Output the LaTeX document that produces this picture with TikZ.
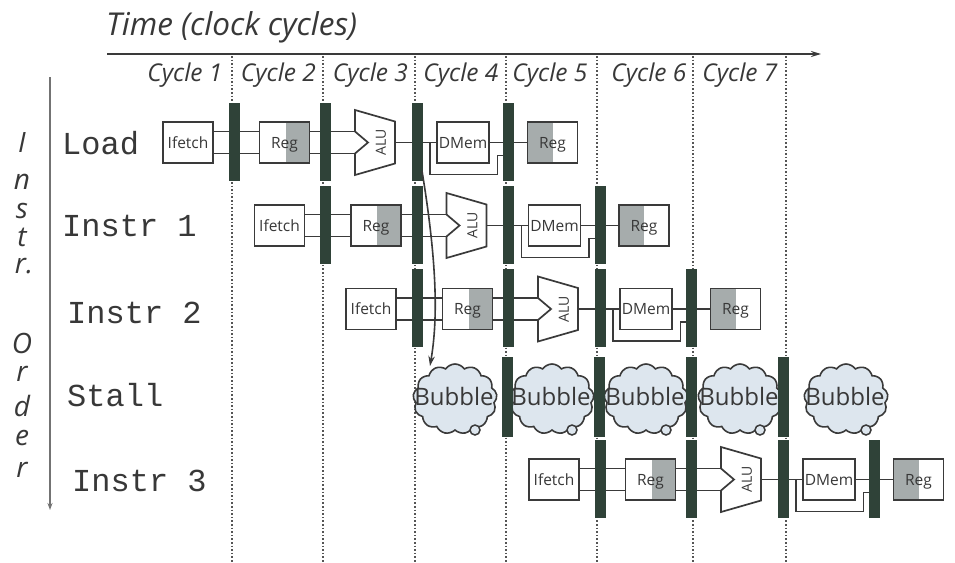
\documentclass[tikz,border=0pt]{standalone}
\usepackage{fontspec}
\setmainfont{Open Sans}
\newfontfamily\monof{Liberation Mono}
\usetikzlibrary{shapes.symbols,arrows.meta}
\definecolor{barc}{HTML}{2F4238}
\definecolor{linec}{HTML}{3A3A3A}
\definecolor{shadec}{HTML}{A6ACAC}
\definecolor{bubc}{HTML}{DDE6EE}
\definecolor{txtc}{HTML}{383838}
\definecolor{dotc}{HTML}{555555}
\newcommand{\fs}[1]{\fontsize{#1}{#1}\selectfont}
\newcommand{\piperow}[3]{%
 \pgfmathsetmacro{\bA}{234+91.5*#2}%
 \pgfmathsetmacro{\bB}{\bA+91.5}%
 \pgfmathsetmacro{\bC}{\bA+183}%
 \pgfmathsetmacro{\bD}{\bA+274.5}%
 \node[stagebox] (#1if) at (\bA-46,#3) {Ifetch};
 \node[regr] (#1rg) at (\bB-41,#3) {Reg};
 \coordinate (#1ai) at (\bC-62,#3-11);
 \coordinate (#1aj) at (\bC-62,#3+11);
 \coordinate (#1ao) at (\bC-22,#3);
 \draw[alu] (\bC-62,#3-32.5) -- (\bC-22,#3-21) -- (\bC-22,#3+21) -- (\bC-62,#3+32.5) -- (#1aj) -- (\bC-49,#3) -- (#1ai) -- cycle;
 \node[boxtext,rotate=90] (#1at) at (\bC-36,#3) {ALU};
 \node[stagebox,minimum width=52] (#1dm) at (\bC+46,#3) {DMem};
 \node[regl] (#1wb) at (\bD+44,#3) {Reg};
 \coordinate (#1bp) at (\bC+13,#3);
 \coordinate (#1bq) at (\bC+13,#3+32);
 \coordinate (#1br) at (\bD-11,#3+32);
 \coordinate (#1bs) at (\bD-11,#3+13);
 \coordinate (#1be) at (\bD,#3+13);
 \draw[wire] ([yshift=11pt]#1if.east) -- ([yshift=11pt]#1rg.west);
 \draw[wire] ([yshift=-11pt]#1if.east) -- ([yshift=-11pt]#1rg.west);
 \draw[wire] (#1rg.east |- #1ai) -- (#1ai);
 \draw[wire] (#1rg.east |- #1aj) -- (#1aj);
 \draw[wire] (#1ao) -- (#1dm.west);
 \draw[wire] (#1bp) -- (#1bq) -- (#1br) -- (#1bs) -- (#1be);
 \draw[wire] (#1dm.east) -- (#1wb.west);
 \node[pbar] (#1ba) at (\bA,#3-1) {};
 \node[pbar] (#1bb) at (\bB,#3-1) {};
 \node[pbar] (#1bc) at (\bC,#3-1) {};
 \node[pbar] (#1bd) at (\bD,#3-1) {};
}
\begin{document}
\begin{tikzpicture}[x=1pt,y=-1pt,
 stagebox/.style={draw=linec,line width=1.7pt,fill=white,minimum width=50,minimum height=41,inner sep=0pt,font=\fs{15.5},text=txtc,text height=11pt,text depth=0pt},
 regr/.style={stagebox,path picture={\fill[shadec] ([xshift=-24pt]path picture bounding box.north east) rectangle (path picture bounding box.south east);}},
 regl/.style={stagebox,path picture={\fill[shadec] (path picture bounding box.north west) rectangle ([xshift=25pt]path picture bounding box.south west);}},
 boxtext/.style={font=\fs{14},text=txtc,inner sep=0pt},
 alu/.style={draw=linec,line width=1.7pt,fill=white,line join=miter},
 wire/.style={draw=linec,line width=1.7pt},
 pbar/.style={fill=barc,draw=none,minimum width=11,minimum height=78,inner sep=0pt},
 dots/.style={draw=dotc,line width=1.6pt,dotted},
 bubble/.style={cloud,cloud puffs=13,cloud puff arc=110,aspect=1.2,draw=linec,line width=1.6pt,fill=bubc,minimum width=84,minimum height=70,inner sep=0pt},
 bubtext/.style={font=\fs{24},text=txtc,inner sep=0pt,text height=17pt,text depth=0pt},
 rowlab/.style={font=\monof\fs{32},text=txtc,anchor=west,inner sep=0pt},
 vlet/.style={font=\itshape\fs{28},text=txtc,inner sep=0pt},
 cyc/.style={font=\itshape\fs{24.5},text=txtc,inner sep=0pt}]
\useasboundingbox (0,0) rectangle (955,562);
\fill[white] (0,0) rectangle (955,562);
% dotted cycle boundaries
\foreach \dx in {232,323,415,506,597,693,786} {\draw[dots] (\dx,56) -- (\dx,562);}
% title and time axis
\node[font=\itshape\fs{31.5},text=txtc,anchor=west,inner sep=0pt] (title) at (106,27) {Time (clock cycles)};
\coordinate (ax0) at (107,54);
\coordinate (ax1) at (821,54);
\draw[draw=linec,line width=2pt,-{Stealth[length=10pt,width=6pt]}] (ax0) -- (ax1);
% cycle labels
\node[cyc] (c1) at (185,75) {Cycle 1};
\node[cyc] (c2) at (278.5,75) {Cycle 2};
\node[cyc] (c3) at (370.5,75) {Cycle 3};
\node[cyc] (c4) at (461,75) {Cycle 4};
\node[cyc] (c5) at (550,75) {Cycle 5};
\node[cyc] (c6) at (649,75) {Cycle 6};
\node[cyc] (c7) at (740,75) {Cycle 7};
% instruction order axis
\coordinate (vo0) at (50,77);
\coordinate (vo1) at (50,510);
\draw[draw=gray!90!black,line width=1.8pt,-{Stealth[length=7pt,width=5pt]}] (vo0) -- (vo1);
\node[vlet] (l1) at (22,143) {I};
\node[vlet] (l2) at (22,182) {n};
\node[vlet] (l3) at (22,211) {s};
\node[vlet] (l4) at (22,237) {t};
\node[vlet] (l5) at (24,266) {r.};
\node[vlet] (l6) at (22,343) {O};
\node[vlet] (l7) at (22,374) {r};
\node[vlet] (l8) at (22,406) {d};
\node[vlet] (l9) at (22,438) {e};
\node[vlet] (l10) at (22,470) {r};
% row labels
\node[rowlab] (rLoad) at (62,143) {Load};
\node[rowlab] (rI1) at (62,226) {Instr 1};
\node[rowlab] (rI2) at (67,313) {Instr 2};
\node[rowlab] (rSt) at (67,395) {Stall};
\node[rowlab] (rI3) at (72,481) {Instr 3};
% pipeline rows
\piperow{ld}{0}{142.5}
\piperow{ia}{1}{225.5}
\piperow{ib}{2}{309}
\piperow{ic}{4}{479.5}
% stall row bubbles
\foreach \i/\bx in {1/455,2/552,3/646,4/740,5/846} {
 \node[bubble] (bub\i) at (\bx,399) {};
 \node[bubtext] (bubt\i) at (\bx-1,397) {Bubble};
 \draw[draw=linec,line width=1.5pt,fill=bubc] (\bx+20,430) circle (5);
}
\foreach \i/\bx in {1/507,2/599,3/691.5,4/783} {
 \node[pbar,minimum height=80] (sb\i) at (\bx,397) {};
}
% hazard arrow
\coordinate (hz0) at (422,171);
\coordinate (hz1) at (430,366);
\draw[draw=linec,line width=1.6pt,-{Stealth[length=10pt,width=6.5pt]}] (hz0) .. controls (440,280) and (436,330) .. (hz1);
\end{tikzpicture}
\end{document}
